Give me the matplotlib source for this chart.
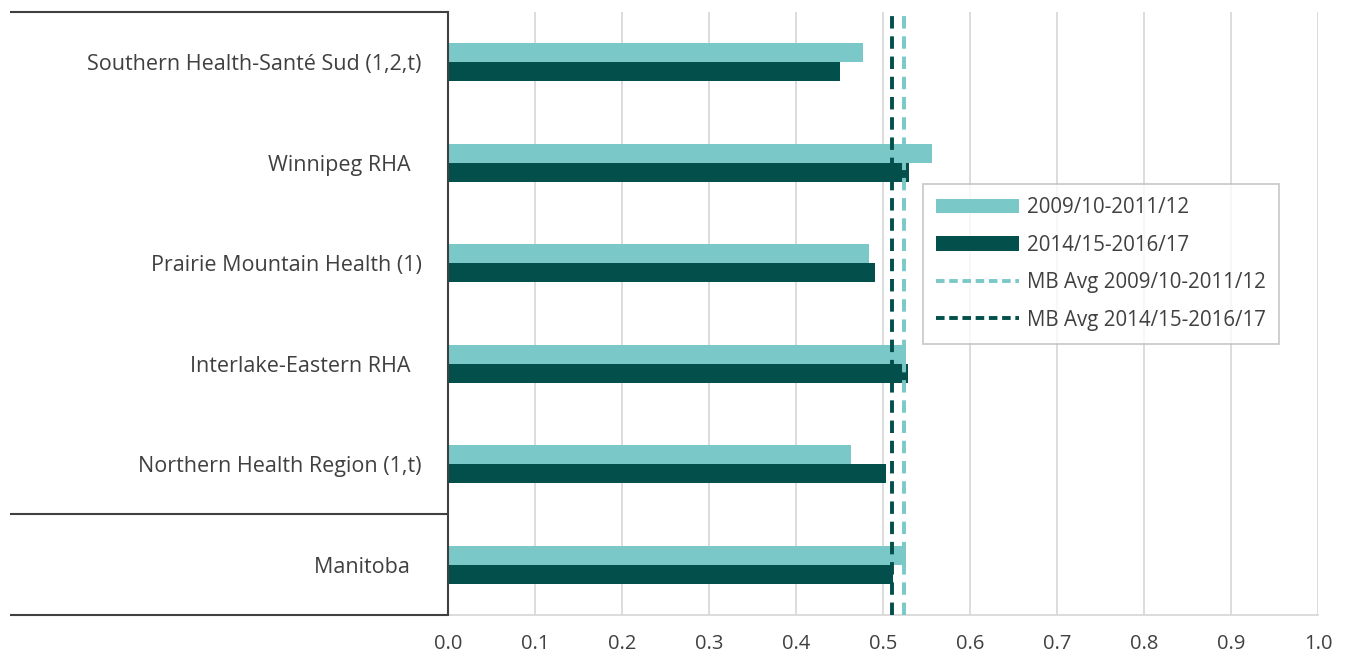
import numpy as np
import matplotlib.pyplot as plt
from matplotlib.patches import Patch
from matplotlib.lines import Line2D
import matplotlib.transforms as mtransforms

plt.rcParams["font.family"] = ["Open Sans", "DejaVu Sans"]

regions = [
    "Southern Health-Santé Sud (1,2,t)",
    "Winnipeg RHA  ",
    "Prairie Mountain Health (1)",
    "Interlake-Eastern RHA  ",
    "Northern Health Region (1,t)",
    "Manitoba  ",
]
rate_0912 = [0.477, 0.556, 0.484, 0.526, 0.463, 0.526]
rate_1417 = [0.451, 0.530, 0.491, 0.529, 0.504, 0.512]
mb_avg_0912 = 0.524
mb_avg_1417 = 0.510
xticks = np.round(np.arange(0, 1.01, 0.1), 1)

light = "#7ac9c8"
dark = "#024f4b"
text_c = "#404040"

fig = plt.figure(figsize=(13.48, 6.63), dpi=100)
ax = fig.add_axes([0.3323, 0.0724, 0.6454, 0.9095])

y = np.arange(len(regions))
h = 0.19
ax.barh(y - h / 2, rate_0912, height=h, color=light, zorder=2)
ax.barh(y + h / 2, rate_1417, height=h, color=dark, zorder=2)
ax.axvline(mb_avg_0912, color=light, lw=2.8, dashes=(3.2, 2.0), zorder=3)
ax.axvline(mb_avg_1417, color=dark, lw=2.8, dashes=(3.2, 2.0), zorder=3)

ax.set_xlim(0, 1.0)
ax.set_ylim(len(regions) - 0.5, -0.5)
ax.set_xticks(xticks)
ax.set_xticklabels([f"{v:.1f}" for v in xticks], fontsize=14.5, color=text_c)
ax.set_yticks(y)
ax.set_yticklabels(regions, fontsize=15.5, color=text_c)
ax.tick_params(axis="both", length=0)
ax.tick_params(axis="x", pad=14)
ax.tick_params(axis="y", pad=19)
ax.xaxis.grid(True, color="#d9d9d9", lw=1.3)
ax.set_axisbelow(True)

for s in ["top", "right"]:
    ax.spines[s].set_visible(False)
ax.spines["bottom"].set_color("#d9d9d9")
ax.spines["bottom"].set_linewidth(1.3)
ax.spines["left"].set_color(text_c)
ax.spines["left"].set_linewidth(1.5)
ax.spines["left"].set_zorder(4)

# box around the category labels
trans = mtransforms.blended_transform_factory(ax.transAxes, ax.transData)
box_x = -0.503
for yy in [-0.5, len(regions) - 1.5, len(regions) - 0.5]:
    ax.plot([box_x, 0], [yy, yy], color=text_c, lw=1.5, transform=trans,
            clip_on=False, solid_capstyle="butt")

handles = [
    Patch(facecolor=light, edgecolor="none"),
    Patch(facecolor=dark, edgecolor="none"),
    Line2D([], [], color=light, lw=2.8, dashes=(2.2, 1.2)),
    Line2D([], [], color=dark, lw=2.8, dashes=(2.2, 1.2)),
]
labels = ["2009/10-2011/12", "2014/15-2016/17",
          "MB Avg 2009/10-2011/12", "MB Avg 2014/15-2016/17"]
leg = ax.legend(handles, labels, loc="upper left", bbox_to_anchor=(0.546, 0.715),
                fontsize=14.8, frameon=True, fancybox=False, edgecolor="#bfbfbf",
                handlelength=4.0, handleheight=0.7, labelspacing=0.8,
                handletextpad=0.4, borderpad=0.65, borderaxespad=0)
leg.get_frame().set_linewidth(1.3)
for t in leg.get_texts():
    t.set_color(text_c)

fig.savefig("out.png", dpi=100)
